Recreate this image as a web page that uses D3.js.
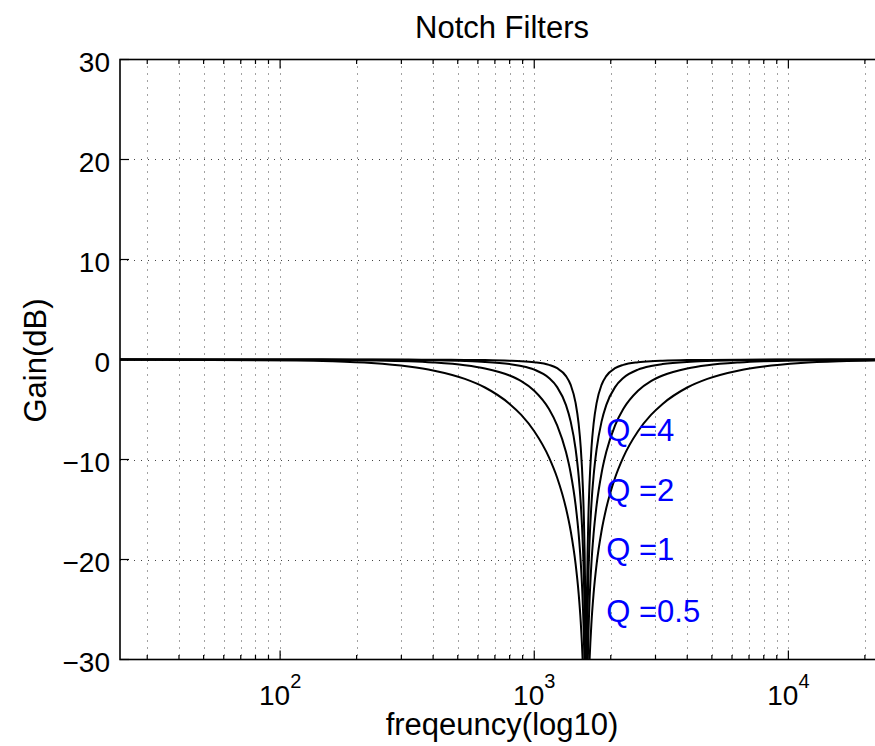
<!DOCTYPE html>
<html>
<head>
<meta charset="utf-8">
<script src="https://cdn.jsdelivr.net/npm/d3@7"></script>
<style>
  html, body { margin: 0; padding: 0; background: #fff; overflow: hidden; }
  svg { display: block; }
  text { font-family: "Liberation Sans", Arial, Helvetica, sans-serif; }
</style>
</head>
<body>
<svg id="chart" width="875" height="746"></svg>
<script>
// ---- data ----
const freqs = [23.44,116.1,160,228.6,320,400,533.3,640,800,888.9,1000,1142.9,1230.8,1333.3,1391.3,1454.5,1495.3,1523.8,1553.4,1568.6,1584.2,1592.0,1596.8,
  1600,
  1603.2,1608.0,1616.0,1632.0,1648.0,1680.0,1712.0,1760.0,1840.0,1920.0,2080.0,2240.0,2560.0,2880.0,3200.0,4000.0,4800.0,6400.0,8000.0,11200.0,16000.0,24000];

const gainQ05 = [-0.004,-0.09,-0.17,-0.35,-0.70,-1.09,-1.94,-2.80,-4.44,-5.54,-7.17,-9.78,-11.82,-14.88,-17.15,-20.44,-23.41,-26.24,-30.59,-34.07,-40.04,-46.04,-53.99,
  -80,
  -53.99,-46.04,-40.04,-34.07,-30.59,-26.24,-23.41,-20.44,-17.15,-14.88,-11.82,-9.78,-7.17,-5.54,-4.44,-2.80,-1.94,-1.09,-0.70,-0.35,-0.17,-0.08];
const gainQ1 = [-0.001,-0.02,-0.04,-0.09,-0.18,-0.30,-0.57,-0.89,-1.60,-2.16,-3.12,-4.95,-6.58,-9.26,-11.37,-14.54,-17.45,-20.25,-24.58,-28.05,-34.02,-40.02,-47.97,
  -80,
  -47.97,-40.02,-34.02,-28.05,-24.58,-20.25,-17.45,-14.54,-11.37,-9.26,-6.58,-4.95,-3.12,-2.16,-1.60,-0.89,-0.57,-0.30,-0.18,-0.09,-0.04,-0.02];
const gainQ2 = [0,-0.006,-0.01,-0.02,-0.05,-0.08,-0.15,-0.24,-0.46,-0.65,-1.01,-1.85,-2.76,-4.56,-6.21,-8.95,-11.65,-14.35,-18.60,-22.05,-28.01,-34.00,-41.95,
  -80,
  -41.95,-34.00,-28.01,-22.05,-18.60,-14.35,-11.65,-8.95,-6.21,-4.56,-2.76,-1.85,-1.01,-0.65,-0.46,-0.24,-0.15,-0.08,-0.05,-0.02,-0.01,-0.005];
const gainQ4 = [0,0,-0.003,-0.006,-0.01,-0.02,-0.04,-0.06,-0.12,-0.17,-0.28,-0.54,-0.87,-1.66,-2.54,-4.34,-6.44,-8.78,-12.76,-16.11,-22.01,-27.99,-35.93,
  -80,
  -35.93,-27.99,-22.01,-16.11,-12.76,-8.78,-6.44,-4.34,-2.54,-1.66,-0.87,-0.54,-0.28,-0.17,-0.12,-0.06,-0.04,-0.02,-0.01,-0.006,-0.003,0];

const seriesList = [gainQ4, gainQ2, gainQ1, gainQ05];

const qLabels = ["Q =4", "Q =2", "Q =1", "Q =0.5"];
const qLabelFreq = 1920;
const qLabelGain = [-7.0, -13.0, -18.9, -25.1];

const xDomain = [23.44, 24000];
const yDomain = [-30, 30];
const yTicks = [-30, -20, -10, 0, 10, 20, 30];
const xMajor = [100, 1000, 10000];
const xMajorExp = ["2", "3", "4"];
const xMinorMult = [2, 3, 4, 5, 6, 7, 8, 9];
const xDecades = [10, 100, 1000, 10000];

const titleText = "Notch Filters";
const xLabelText = "freqeuncy(log10)";
const yLabelText = "Gain(dB)";

// ---- layout ----
const L = 120, R = 885, T = 59.5, B = 659.5;
const svg = d3.select("#chart");

const x = d3.scaleLog().domain(xDomain).range([L, R]);
const y = d3.scaleLinear().domain(yDomain).range([B, T]);

const minorVals = [];
xDecades.forEach(d => xMinorMult.forEach(m => {
  const v = d * m;
  if (v >= xDomain[0] && v <= xDomain[1]) minorVals.push(v);
}));
const allXGrid = minorVals.concat(xMajor).sort((a, b) => a - b);

// grid
const grid = svg.append("g").attr("stroke", "#444").attr("stroke-width", 1)
  .attr("stroke-dasharray", "1,6").attr("fill", "none");
allXGrid.forEach(v => {
  const px = Math.round(x(v)) + 0.5;
  grid.append("line").attr("x1", px).attr("x2", px).attr("y1", T).attr("y2", B);
});
yTicks.forEach(v => {
  if (v === yDomain[0] || v === yDomain[1]) return;
  const py = Math.round(y(v)) + 0.5;
  grid.append("line").attr("x1", L).attr("x2", R).attr("y1", py).attr("y2", py);
});

// clip
svg.append("clipPath").attr("id", "plotclip")
  .append("rect").attr("x", L).attr("y", T).attr("width", R - L).attr("height", B - T);

// curves
const line = d3.line()
  .x((d, i) => x(freqs[i]))
  .y(d => y(d))
  .curve(d3.curveMonotoneX);

svg.append("g").attr("clip-path", "url(#plotclip)")
  .selectAll("path").data(seriesList).join("path")
  .attr("d", d => line(d))
  .attr("fill", "none").attr("stroke", "#000").attr("stroke-width", 2);

// axes box
svg.append("rect").attr("x", L).attr("y", T).attr("width", R - L).attr("height", B - T)
  .attr("fill", "none").attr("stroke", "#000").attr("stroke-width", 1.6);

// ticks
const tk = svg.append("g").attr("stroke", "#000").attr("stroke-width", 1.2);
minorVals.forEach(v => {
  const px = x(v);
  tk.append("line").attr("x1", px).attr("x2", px).attr("y1", B).attr("y2", B - 4.5);
  tk.append("line").attr("x1", px).attr("x2", px).attr("y1", T).attr("y2", T + 4.5);
});
xMajor.forEach(v => {
  const px = x(v);
  tk.append("line").attr("x1", px).attr("x2", px).attr("y1", B).attr("y2", B - 9);
  tk.append("line").attr("x1", px).attr("x2", px).attr("y1", T).attr("y2", T + 9);
});
yTicks.forEach(v => {
  const py = y(v);
  tk.append("line").attr("x1", L).attr("x2", L + 9).attr("y1", py).attr("y2", py);
  tk.append("line").attr("x1", R).attr("x2", R - 9).attr("y1", py).attr("y2", py);
});

// y tick labels
const fmt = d3.format("d");
svg.append("g").selectAll("text").data(yTicks).join("text")
  .attr("x", 110).attr("y", d => y(d))
  .attr("dy", "0.43em")
  .attr("text-anchor", "end")
  .attr("font-size", 28)
  .text(d => fmt(d));

// x tick labels 10^n
xMajor.forEach((v, i) => {
  const t = svg.append("text")
    .attr("x", x(v)).attr("y", 705)
    .attr("text-anchor", "middle")
    .attr("font-size", 28);
  t.append("tspan").text("10");
  t.append("tspan").attr("dy", -17).attr("font-size", 20).text(xMajorExp[i]);
});

// title & axis labels
svg.append("text").attr("x", 502).attr("y", 38)
  .attr("text-anchor", "middle").attr("font-size", 31).text(titleText);
svg.append("text").attr("x", 502).attr("y", 735)
  .attr("text-anchor", "middle").attr("font-size", 31).text(xLabelText);
svg.append("text")
  .attr("transform", `translate(46,360.5) rotate(-90)`)
  .attr("text-anchor", "middle").attr("font-size", 31).text(yLabelText);

// Q annotations
svg.append("g").selectAll("text").data(qLabels).join("text")
  .attr("x", x(qLabelFreq)).attr("y", (d, i) => y(qLabelGain[i]))
  .attr("dy", "0.36em")
  .attr("font-size", 31)
  .attr("fill", "#0000ff")
  .text(d => d);
</script>
</body>
</html>
